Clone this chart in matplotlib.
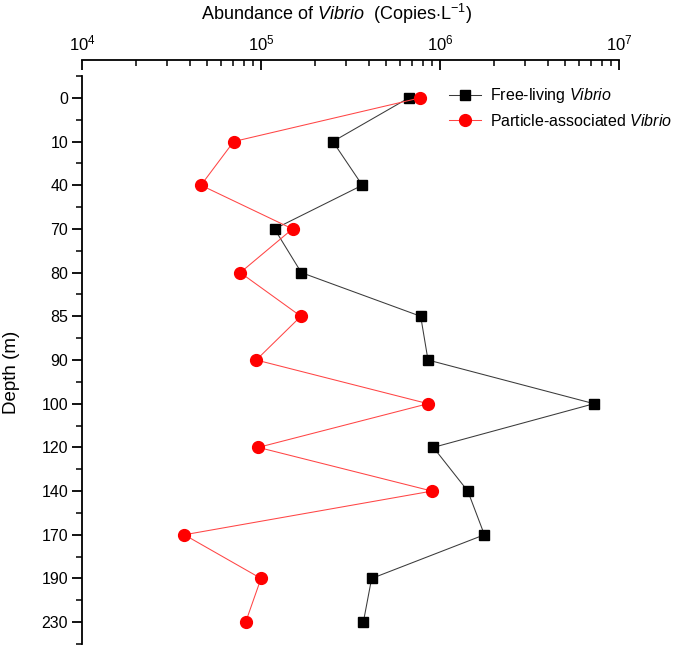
import matplotlib.pyplot as plt
from matplotlib.ticker import LogLocator, NullFormatter, MultipleLocator, FixedLocator

plt.rcParams['font.family'] = ['Liberation Sans', 'DejaVu Sans']
plt.rcParams['mathtext.fontset'] = 'custom'
plt.rcParams['mathtext.rm'] = 'Liberation Sans'
plt.rcParams['mathtext.it'] = 'Liberation Sans:italic'

# depth labels (m), drawn at equal spacing
depths = ['0', '10', '40', '70', '80', '85', '90', '100', '120', '140', '170', '190', '230']

# copies per litre
free_living = [6.7e5, 2.52e5, 3.68e5, 1.19e5, 1.68e5, 7.8e5, 8.57e5,
               7.25e6, 9.18e5, 1.43e6, 1.77e6, 4.15e5, 3.73e5]
particle = [7.76e5, 7.04e4, 4.62e4, 1.50e5, 7.66e4, 1.67e5, 9.41e4,
            8.57e5, 9.66e4, 9.02e5, 3.73e4, 1.0e5, 8.21e4]

pos = list(range(len(depths)))

fig = plt.figure(figsize=(6.85, 6.46), dpi=100)
ax = fig.add_axes([82/685, 2/646, (619-82)/685, (644-76)/646])

ax.plot(free_living, pos, color='#3a3a3a', lw=0.75, marker='s', ms=7.5,
        mfc='black', mec='black', label=r'Free-living $\it{Vibrio}$')
ax.plot(particle, pos, color='#ff4545', lw=0.75, marker='o', ms=8.5,
        mfc='red', mec='red', label=r'Particle-associated $\it{Vibrio}$')

ax.set_xscale('log')
ax.set_xlim(1e4, 1e7)
ax.set_ylim(12.5, -0.5)

# x axis on top, moved up a bit (Origin style)
ax.xaxis.set_ticks_position('top')
ax.xaxis.set_label_position('top')
ax.spines['top'].set_position(('outward', 11.5))
ax.spines['right'].set_visible(False)
ax.spines['bottom'].set_visible(False)
ax.spines['top'].set_linewidth(1.3)
ax.spines['left'].set_linewidth(1.3)

ax.xaxis.set_major_locator(LogLocator(base=10, numticks=10))
ax.xaxis.set_minor_locator(LogLocator(base=10, subs=range(2, 10), numticks=10))
ax.xaxis.set_minor_formatter(NullFormatter())
ax.tick_params(axis='x', which='major', direction='in', length=7.5, width=1.3,
               labelsize=12, pad=5)
ax.tick_params(axis='x', which='minor', direction='in', length=4, width=1.1)

ax.yaxis.set_major_locator(FixedLocator(pos))
ax.set_yticklabels(depths)
ax.yaxis.set_minor_locator(MultipleLocator(0.5))
ax.tick_params(axis='y', which='major', direction='out', length=7, width=1.3,
               labelsize=11.5, pad=3)
ax.tick_params(axis='y', which='minor', direction='out', length=4, width=1.1)

fig.text(337/685, 1 - 14/646, r'Abundance of $\it{Vibrio}$  (Copies$\cdot$L$^{-1}$)',
         ha='center', va='center', fontsize=13)
fig.text(12/685, 1 - 372/646, 'Depth (m)', rotation=90, ha='center', va='center',
         fontsize=13.5)

ax.legend(loc='upper left', bbox_to_anchor=(443/685, 1 - 80/646),
          bbox_transform=fig.transFigure, frameon=False, fontsize=11.5,
          handlelength=2.0, handletextpad=0.55, labelspacing=0.45, borderaxespad=0)

fig.savefig('out.png', dpi=100)
